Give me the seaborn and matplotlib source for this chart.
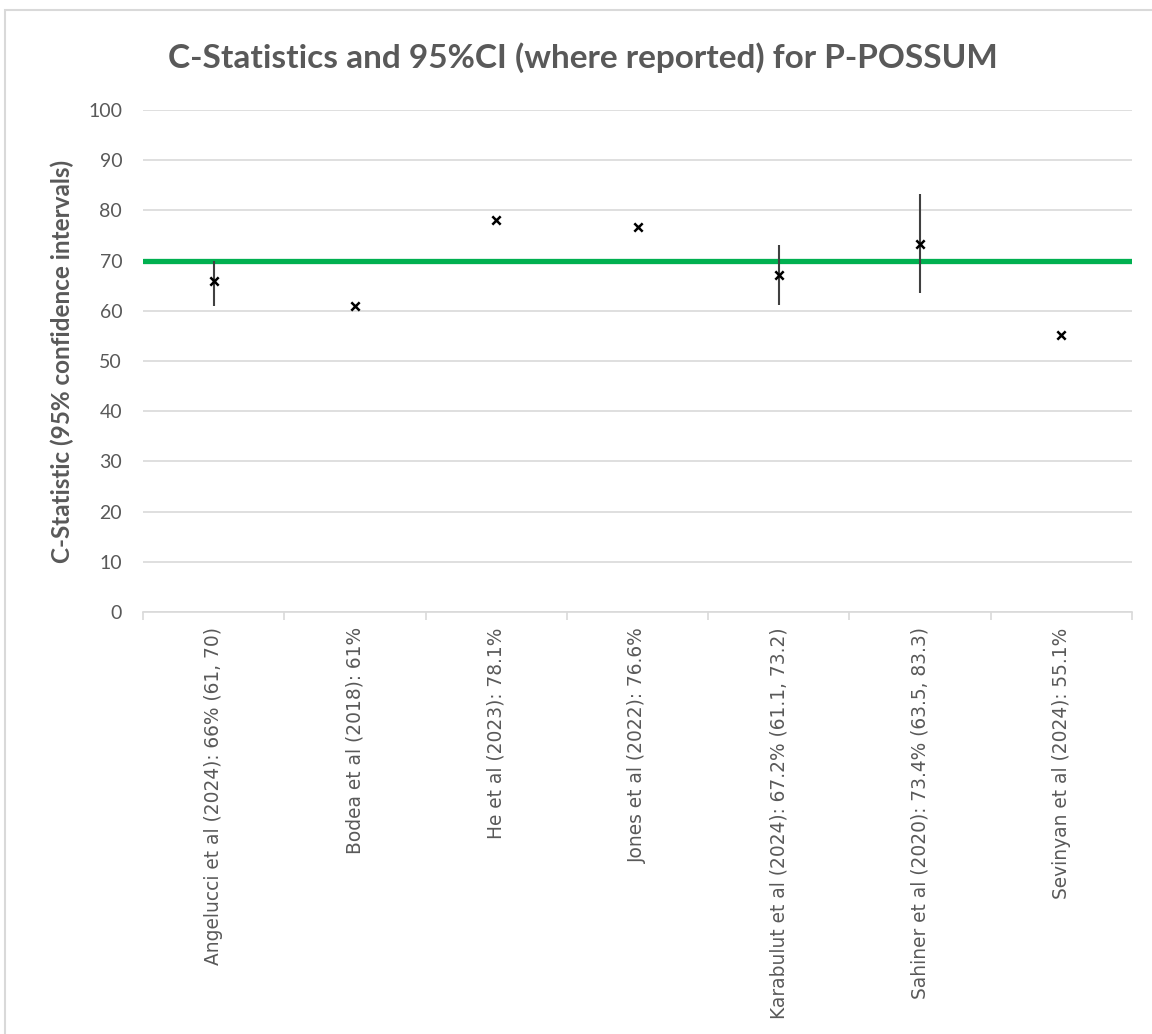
import matplotlib
matplotlib.use("Agg")
import matplotlib.pyplot as plt
import seaborn as sns
import pandas as pd
from matplotlib.patches import Rectangle

labels = [
    "Angelucci et al (2024): 66% (61, 70)",
    "Bodea et al (2018): 61%",
    "He et al (2023): 78.1%",
    "Jones et al (2022): 76.6%",
    "Karabulut et al (2024): 67.2% (61.1, 73.2)",
    "Sahiner et al (2020): 73.4% (63.5, 83.3)",
    "Sevinyan et al (2024): 55.1%",
]
cstat = [66, 61, 78.1, 76.6, 67.2, 73.4, 55.1]
ci_low = [61, None, None, None, 61.1, 63.5, None]
ci_high = [70, None, None, None, 73.2, 83.3, None]
threshold = 70
yticks = [0, 10, 20, 30, 40, 50, 60, 70, 80, 90, 100]

sns.set_theme(style="white")
plt.rcParams['font.family'] = ['Lato', 'DejaVu Sans']

fig = plt.figure(figsize=(11.52, 10.34), dpi=100)
ax = fig.add_axes([143/1152, 1-612/1034, (1132-143)/1152, (612-110)/1034])

df = pd.DataFrame({"label": labels, "c": cstat, "lo": ci_low, "hi": ci_high})
df["pos"] = range(len(df))

ax.axhline(threshold, color="#00B050", lw=3.8, zorder=2)

ci = df.dropna()
ax.vlines(ci["pos"], ci["lo"], ci["hi"], color="#404040", lw=1.5, zorder=3)

sns.scatterplot(data=df, x="pos", y="c", marker="x", color="black", s=36,
                linewidth=1.8, ax=ax, zorder=4, legend=False)

ax.set_xlim(-0.5, len(labels) - 0.5)
ax.set_ylim(0, 100)
ax.set_yticks(yticks)
ax.set_yticklabels([str(v) for v in yticks], fontsize=14, color="#595959")
ax.yaxis.grid(True, color="#d9d9d9", lw=1.2)
ax.set_axisbelow(True)
for s in ["top", "right", "left"]:
    ax.spines[s].set_visible(False)
ax.spines["bottom"].set_color("#d9d9d9")
ax.spines["bottom"].set_linewidth(1.2)
ax.tick_params(axis="y", length=0, pad=15)

ax.set_xticks(df["pos"])
ax.set_xticklabels(labels, rotation=90, fontsize=13.4, color="#595959",
                   va="top", ha="center", fontfamily="DejaVu Sans")
ax.set_xticks([i - 0.5 for i in range(len(labels) + 1)], minor=True)
ax.tick_params(axis="x", which="major", length=0, pad=11)
ax.tick_params(axis="x", which="minor", length=6, color="#d9d9d9", width=1.2,
               bottom=True)
ax.set_xlabel("")
ax.set_ylabel("C-Statistic (95% confidence intervals)", fontsize=17.5,
              fontweight="bold", color="#595959", labelpad=10)

fig.text(0.506, 1-58/1034, "C-Statistics and 95%CI (where reported) for P-POSSUM",
         ha="center", va="center", fontsize=24, fontweight="bold", color="#595959")

fig.patches.append(Rectangle((5/1152, -0.01), 1.2, 1-10/1034 + 0.01,
                             transform=fig.transFigure, fill=False,
                             edgecolor="#d9d9d9", lw=1.5))

fig.savefig("out.png", dpi=100)
